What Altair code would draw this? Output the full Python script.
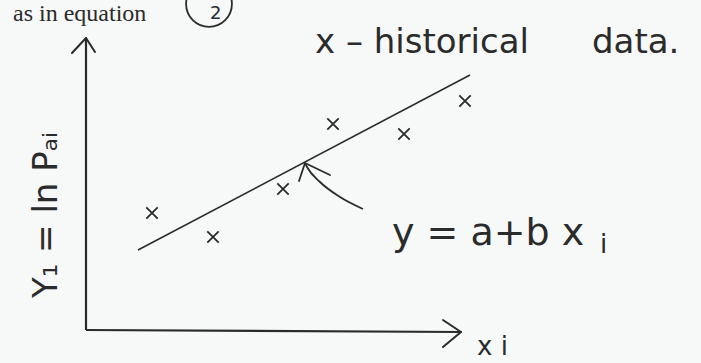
import altair as alt
import pandas as pd

# Observed points (historical data), in axis units
obs_x = [6.6, 12.7, 19.7, 24.7, 31.8, 37.9]
obs_y = [11.7, 9.3, 14.1, 20.6, 19.6, 22.9]

# Fitted line y = a + b x, drawn between its two end points
fit_x = [5.2, 38.4]
fit_y = [8.0, 25.5]

# Axis lines (start -> end) and their arrow heads
axis_x0 = [0.0, 0.0]
axis_y0 = [0.0, 0.0]
axis_x1 = [0.0, 37.5]
axis_y1 = [29.2, -0.2]
head_tip_x = [0.0, 0.0, 37.5, 37.5]
head_tip_y = [29.2, 29.2, -0.2, -0.2]
head_end_x = [-1.4, 0.9, 35.7, 35.7]
head_end_y = [27.7, 27.8, 1.0, -1.7]

# Curved pointer from the equation to the fitted line
ptr_x = [21.9, 22.1, 23.4, 25.4, 27.7]
ptr_y = [16.7, 16.3, 14.8, 13.3, 12.1]
ptr_head_x = [21.3, 24.4]
ptr_head_y = [14.9, 15.5]

X_DOMAIN = [-8.6, 61.5]
Y_DOMAIN = [-3.3, 33.0]
INK = "#2b2b2b"
HAND = "DejaVu Sans"

xs = alt.Scale(domain=X_DOMAIN, nice=False, zero=False)
ys = alt.Scale(domain=Y_DOMAIN, nice=False, zero=False)

def X(field="x"):
    return alt.X(f"{field}:Q", scale=xs, axis=None)

def Y(field="y"):
    return alt.Y(f"{field}:Q", scale=ys, axis=None)

obs = pd.DataFrame({"x": obs_x, "y": obs_y})
fit = pd.DataFrame({"x": fit_x, "y": fit_y})
axes = pd.DataFrame({"x": axis_x0, "y": axis_y0, "x2": axis_x1, "y2": axis_y1})
heads = pd.DataFrame({"x": head_tip_x, "y": head_tip_y, "x2": head_end_x, "y2": head_end_y})
ptr = pd.DataFrame({"x": ptr_x, "y": ptr_y, "o": range(len(ptr_x))})
ptr_heads = pd.DataFrame({"x": [ptr_x[0]] * 2, "y": [ptr_y[0]] * 2,
                          "x2": ptr_head_x, "y2": ptr_head_y})

axis_layer = alt.Chart(axes).mark_rule(color=INK, strokeWidth=2.2).encode(
    x=X(), y=Y(), x2="x2:Q", y2="y2:Q")
head_layer = alt.Chart(heads).mark_rule(color=INK, strokeWidth=2, strokeCap="round").encode(
    x=X(), y=Y(), x2="x2:Q", y2="y2:Q")

fit_layer = alt.Chart(fit).mark_line(color=INK, strokeWidth=1.6).encode(x=X(), y=Y())

obs_layer = alt.Chart(obs).mark_point(
    shape="M-1,-1L1,1M-1,1L1,-1", size=130, filled=False,
    color=INK, strokeWidth=1.8, opacity=1).encode(x=X(), y=Y())

ptr_layer = alt.Chart(ptr).mark_line(
    color=INK, strokeWidth=1.8, interpolate="monotone").encode(
    x=X(), y=Y(), order="o:Q")
ptr_head_layer = alt.Chart(ptr_heads).mark_rule(
    color=INK, strokeWidth=1.8, strokeCap="round").encode(
    x=X(), y=Y(), x2="x2:Q", y2="y2:Q")

def label(text, x, y, size, font=HAND, angle=0, align="left",
          baseline="middle", weight="normal"):
    df = pd.DataFrame({"x": [x], "y": [y], "t": [text]})
    return alt.Chart(df).mark_text(
        font=font, fontSize=size, color=INK, align=align, baseline=baseline,
        angle=angle, fontWeight=weight).encode(x=X(), y=Y(), text="t:N")

texts = [
    label("x – historical", 22.9, 28.7, 34),
    label("data.", 50.6, 28.7, 34),
    label("y = a+b x", 30.6, 9.6, 38),
    label("i", 51.4, 8.5, 26),
    label("x i", 39.1, -1.7, 26),
    label("Y₁ = ln Pₐᵢ", -3.9, 11.5, 34, angle=270, align="center"),
    label("as in equation", -7.3, 32.85, 24, font="Liberation Serif",
          baseline="top"),
    label("2", 12.4, 31.6, 18),
]

ring = alt.Chart(pd.DataFrame({"x": [12.3], "y": [32.6]})).mark_point(
    shape="circle", size=2100, filled=False, color=INK, strokeWidth=1.8,
    opacity=1).encode(x=X(), y=Y())

chart = alt.layer(
    axis_layer, head_layer, fit_layer, obs_layer, ptr_layer, ptr_head_layer,
    ring, *texts
).properties(
    width=701, height=363, padding=0,
    autosize=alt.AutoSizeParams(type="none"),
    background="#f7f8f8",
).configure_view(stroke=None)

chart.save("out.html", embed_options={"renderer": "svg", "actions": False})
